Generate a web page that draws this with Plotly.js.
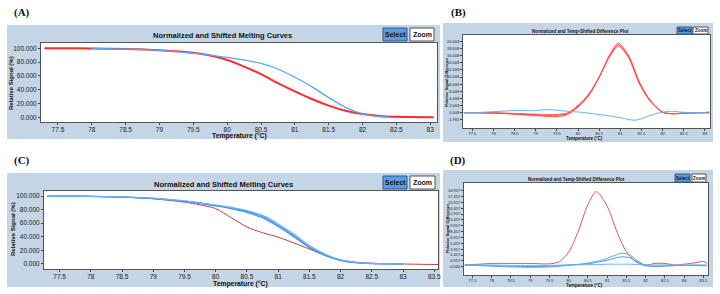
<!DOCTYPE html>
<html>
<head>
<meta charset="utf-8">
<script src="https://cdn.plot.ly/plotly-3.0.1.min.js"></script>
<style>html,body{margin:0;padding:0;background:#fff;}#chart{width:720px;height:294px;}</style>
</head>
<body>
<div id="chart"></div>
<script>
// ---------- Panel A : normalized melting curves ----------
const tempRedA = [77.3, 77.5, 78, 78.5, 79, 79.5, 79.75, 80, 80.25, 80.5, 80.75, 81, 81.25, 81.5, 81.75, 82, 82.25, 82.5, 83, 83.05];
const redA     = [100, 100, 99.8, 99, 97.2, 93.5, 89.5, 83, 73.5, 62.5, 49.5, 37.5, 26.5, 17, 9.5, 4.8, 2, 0.8, 0.2, 0.2];
const tempBlueA = [78, 78.5, 79, 79.5, 79.75, 80, 80.25, 80.5, 80.75, 81, 81.25, 81.5, 81.75, 82, 82.2, 82.4];
const blueA     = [100, 99, 97, 93, 90, 87, 83, 78, 70, 58, 44.5, 28.5, 14.5, 5, 1.5, 0.3];

// ---------- Panel B : difference plot ----------
const tempRedB = [77.3, 77.5, 78, 78.5, 79, 79.5, 79.75, 80, 80.25, 80.5, 80.75, 80.95, 81.2, 81.45, 81.7, 82, 82.25, 82.5, 83, 83.1];
const redB1    = [0, 0, -0.1, -0.4, -0.8, -1.1, -0.5, 1.6, 4.8, 10.0, 16.3, 19.5, 15.9, 8.6, 3.6, 0.2, -0.3, -0.1, 0, 0];
const redB2    = [0, 0, -0.1, -0.3, -0.6, -0.7, -0.2, 1.9, 5.0, 10.0, 16.0, 19.0, 15.5, 8.3, 3.4, 0.1, -0.3, -0.1, 0, 0];
const redB3    = [0, 0, 0, -0.2, -0.4, -0.5, 0, 2.1, 5.2, 10.1, 15.8, 18.7, 15.3, 8.1, 3.3, 0.1, -0.2, -0.1, 0, 0];
const tempBlueB = [77.3, 77.5, 78, 78.5, 79, 79.25, 79.5, 79.75, 80, 80.25, 80.5, 80.75, 81, 81.2, 81.35, 81.5, 81.75, 82, 82.25, 82.5, 83, 83.1];
const blueB     = [0, 0, 0.3, 0.6, 0.6, 0.9, 0.7, 0.4, 0.2, -0.1, -0.5, -0.9, -1.4, -1.9, -2.1, -1.7, -0.6, 0.2, 0.4, 0.1, 0.1, 0.3];
const yTicksB = [-1.992, 0.008, 2.008, 4.008, 6.008, 8.008, 10.008, 12.008, 14.008, 16.008, 18.008, 20.008];
const yLabelsB = ["-1.992", "0.008", "2.008", "4.008", "6.008", "8.008", "10.008", "12.008", "14.008", "16.008", "18.008", "20.008"];

// ---------- Panel C : normalized melting curves ----------
const tempRedC = [77.75, 78, 78.5, 79, 79.5, 79.75, 80, 80.25, 80.5, 80.75, 81, 81.25, 81.5, 81.75, 82, 82.25, 82.5, 83, 83.5, 83.6];
const redC     = [99.5, 99.3, 98.3, 96, 91, 87, 81.5, 68, 54.5, 46, 39.5, 31, 22, 13, 6, 2.5, 1, 0, -0.8, -0.8];
const tempBlueC = [77.3, 77.5, 78, 78.5, 79, 79.5, 79.75, 80, 80.25, 80.5, 80.75, 81, 81.25, 81.5, 81.75, 82, 82.25, 82.5, 83];
const blueC1 = [100, 100, 99.5, 98.5, 96.5, 92.5, 89.5, 86, 82.5, 77.5, 70, 57, 42, 25, 13.5, 5.5, 2, 0.8, 0.2];
const blueC2 = [100, 100, 99.4, 98.3, 96.2, 92, 89, 85.5, 81.5, 76, 68, 55, 40, 24, 12.5, 5, 1.8, 0.6, 0.1];
const blueC3 = [100, 100, 99.5, 98.6, 96.8, 93, 90, 86.8, 83.2, 78.5, 71.5, 59, 44, 27, 14.5, 6, 2.2, 0.8, 0.2];

// ---------- Panel D : difference plot ----------
const tempRedD = [77.3, 77.5, 78, 78.5, 79, 79.5, 79.75, 80, 80.25, 80.5, 80.72, 81, 81.25, 81.5, 81.75, 82, 82.25, 82.5, 82.75, 83, 83.25, 83.5, 83.6];
const redD     = [-0.1, 0, 0.3, 0.3, 0.3, 0.2, 0.7, 3.2, 8.6, 15.4, 18.7, 15.0, 8.5, 3.3, 0.7, -0.1, 0.3, 0.3, -0.1, 0.1, 0.4, 0.8, 0.3];
const tempBlueD = [77.3, 77.5, 78, 78.5, 79, 79.5, 80, 80.5, 80.75, 81, 81.2, 81.4, 81.6, 81.8, 82, 82.25, 82.5, 83, 83.5, 83.6];
const blueD1 = [-0.1, -0.2, -0.4, -0.6, -0.7, -0.6, -0.2, 0.4, 0.9, 1.6, 2.4, 2.9, 2.4, 0.9, -0.2, -0.5, -0.4, -0.2, -0.3, -0.3];
const blueD2 = [-0.1, -0.1, -0.3, -0.4, -0.5, -0.4, -0.1, 0.2, 0.6, 1.1, 1.7, 2.0, 1.7, 0.6, -0.3, -0.4, -0.3, -0.2, -0.2, -0.2];
const blueD3 = [-0.1, -0.1, -0.1, -0.2, -0.2, -0.2, -0.1, 0, 0, 0.1, 0.1, 0.1, 0.1, 0, -0.1, -0.1, -0.1, -0.1, -0.1, -0.2];
const yTicksD = [-0.543, 0.957, 2.457, 3.957, 5.457, 6.957, 8.457, 9.957, 11.457, 12.957, 14.457, 15.957, 17.457, 18.957];
const yLabelsD = ["-0.543", "0.957", "2.457", "3.957", "5.457", "6.957", "8.457", "9.957", "11.457", "12.957", "14.457", "15.957", "17.457", "18.957"];

const yTicksAC = [0, 20, 40, 60, 80, 100];

// ---------- helpers (pixel -> paper) ----------
const W = 720, H = 294;
const px = v => v / W;
const py = v => 1 - v / H;

function line(x, y, xa, ya, color, width) {
  return {x: x, y: y, xaxis: xa, yaxis: ya, type: 'scatter', mode: 'lines',
          line: {color: color, width: width, shape: 'spline', smoothing: 0.8}, hoverinfo: 'skip'};
}

const traces = [
  line(tempRedA, redA, 'x', 'y', '#ff2a2a', 2),
  line(tempBlueA, blueA, 'x', 'y', '#5aa5f5', 1.3),
  line(tempRedB, redB1, 'x2', 'y2', '#ff4848', 1),
  line(tempRedB, redB2, 'x2', 'y2', '#ff3030', 1),
  line(tempRedB, redB3, 'x2', 'y2', '#ff5a5a', 1),
  line(tempBlueB, blueB, 'x2', 'y2', '#6aaef5', 1),
  line(tempRedC, redC, 'x3', 'y3', '#cc3b3b', 1),
  line(tempBlueC, blueC1, 'x3', 'y3', '#4a9ef0', 1.2),
  line(tempBlueC, blueC2, 'x3', 'y3', '#3c8fe6', 1.2),
  line(tempBlueC, blueC3, 'x3', 'y3', '#6cb4f8', 1.2),
  line(tempRedD, redD, 'x4', 'y4', '#d85a5a', 1),
  line(tempBlueD, blueD1, 'x4', 'y4', '#5aa8f2', 1),
  line(tempBlueD, blueD2, 'x4', 'y4', '#4a9aec', 1),
  line(tempBlueD, blueD3, 'x4', 'y4', '#68b2f6', 1)
];

const FONT = 'Liberation Sans, Arial, sans-serif';
function xax(dom, anchor, range, fs, tl) {
  return {domain: dom, anchor: anchor, range: range, dtick: 0.5, tick0: 77.5,
          ticks: 'outside', ticklen: tl, tickcolor: '#444', tickfont: {family: FONT, size: fs, color: '#222'},
          showline: true, mirror: true, linecolor: '#555', linewidth: 1, showgrid: false, zeroline: false, fixedrange: true};
}
function yax(dom, anchor, range, vals, texts, fs) {
  return {domain: dom, anchor: anchor, range: range, tickmode: 'array', tickvals: vals, ticktext: texts,
          ticks: 'outside', ticklen: 2, tickcolor: '#444', tickfont: {family: FONT, size: fs, color: '#222'},
          showline: true, mirror: true, linecolor: '#555', linewidth: 1, showgrid: false, zeroline: false, fixedrange: true};
}
const labelsAC = yTicksAC.map(v => v.toFixed(3));

// panel boxes (pixels)
const panels = [
  {bg: [7, 25, 440, 139], plot: [41, 43, 437, 122]},
  {bg: [443, 23, 713, 142], plot: [463, 35, 710, 128]},
  {bg: [7, 173, 440, 287], plot: [44, 191, 438, 269]},
  {bg: [443, 170, 713, 287], plot: [464, 183, 708, 275]}
];
const shapes = [];
panels.forEach(p => {
  shapes.push({type: 'rect', xref: 'paper', yref: 'paper', layer: 'below',
    x0: px(p.bg[0]), x1: px(p.bg[2]), y0: py(p.bg[3]), y1: py(p.bg[1]),
    fillcolor: '#c4d5e6', line: {width: 0}});
  shapes.push({type: 'rect', xref: 'paper', yref: 'paper', layer: 'below',
    x0: px(p.plot[0]), x1: px(p.plot[2]), y0: py(p.plot[3]), y1: py(p.plot[1]),
    fillcolor: '#ffffff', line: {width: 0}});
});
// buttons [x0,y0,x1,y1, label, font]
const buttons = [
  [383, 28, 407, 41, 'Select', 7], [410, 28, 434, 41, 'Zoom', 7],
  [677, 27, 692, 34, 'Select', 4.5], [693, 27, 708, 34, 'Zoom', 4.5],
  [383, 176, 407, 189, 'Select', 7], [410, 176, 435, 189, 'Zoom', 7],
  [675, 174, 690, 182, 'Select', 4.5], [692, 174, 706, 182, 'Zoom', 4.5]
];
const annotations = [];
buttons.forEach(b => {
  const sel = b[4] === 'Select';
  shapes.push({type: 'rect', xref: 'paper', yref: 'paper', layer: 'above',
    x0: px(b[0]), x1: px(b[2]), y0: py(b[3]), y1: py(b[1]),
    fillcolor: sel ? '#5b9ee0' : '#ffffff', line: {color: sel ? '#2c5b8a' : '#555', width: 1}});
  annotations.push({xref: 'paper', yref: 'paper', x: px((b[0] + b[2]) / 2), y: py((b[1] + b[3]) / 2),
    text: '<b>' + b[4] + '</b>', showarrow: false, xanchor: 'center', yanchor: 'middle',
    font: {family: FONT, size: b[5], color: '#111'}});
});
function txt(x, y, t, size, opts) {
  return Object.assign({xref: 'paper', yref: 'paper', x: px(x), y: py(y), text: t, showarrow: false,
    xanchor: 'center', yanchor: 'middle', font: {family: FONT, size: size, color: '#111'}}, opts || {});
}
const serif = {font: {family: 'Liberation Serif, Times New Roman, serif', size: 11, color: '#111'}};
annotations.push(
  txt(22, 12, '<b>(A)</b>', 11, serif), txt(458, 12, '<b>(B)</b>', 11, serif),
  txt(22, 160, '<b>(C)</b>', 11, serif), txt(458, 160, '<b>(D)</b>', 11, serif),
  txt(222, 35, '<b>Normalized and Shifted Melting Curves</b>', 7.5),
  txt(580, 31, '<b>Normalized and Temp-Shifted Difference Plot</b>', 4.5),
  txt(223, 184, '<b>Normalized and Shifted Melting Curves</b>', 7.5),
  txt(576, 179, '<b>Normalized and Temp-Shifted Difference Plot</b>', 4.5),
  txt(239, 136.3, '<b>Temperature (°C)</b>', 6.8),
  txt(584, 138, '<b>Temperature (°C)</b>', 4.5),
  txt(241, 283.5, '<b>Temperature (°C)</b>', 6.8),
  txt(584, 285, '<b>Temperature (°C)</b>', 4.5),
  txt(11, 83, '<b>Relative Signal (%)</b>', 6, {textangle: -90}),
  txt(446, 82, '<b>Relative Signal Difference</b>', 4, {textangle: -90}),
  txt(13, 229, '<b>Relative Signal (%)</b>', 6, {textangle: -90}),
  txt(447, 228, '<b>Relative Signal Difference</b>', 4, {textangle: -90})
);

const dom = (a, b) => [a, b];
const layout = {
  width: W, height: H, margin: {l: 0, r: 0, t: 0, b: 0}, showlegend: false,
  paper_bgcolor: '#ffffff', plot_bgcolor: 'rgba(0,0,0,0)',
  font: {family: FONT},
  xaxis: xax(dom(px(41), px(437)), 'y', [77.25, 83.1], 6.5, 1.5),
  yaxis: yax(dom(py(122), py(43)), 'x', [-6.8, 107.7], yTicksAC, labelsAC, 6.5),
  xaxis2: xax(dom(px(463), px(710)), 'y2', [77.28, 83.12], 4, 1.5),
  yaxis2: yax(dom(py(128), py(35)), 'x2', [-4.28, 21.8], yTicksB, yLabelsB, 4),
  xaxis3: xax(dom(px(44), px(438)), 'y3', [77.25, 83.56], 6.5, 1.5),
  yaxis3: yax(dom(py(269), py(191)), 'x3', [-7.4, 107.4], yTicksAC, labelsAC, 6.5),
  xaxis4: xax(dom(px(464), px(708)), 'y4', [77.28, 83.62], 4, 1.5),
  yaxis4: yax(dom(py(275), py(183)), 'x4', [-2.67, 20.93], yTicksD, yLabelsD, 4),
  shapes: shapes, annotations: annotations
};
Plotly.newPlot('chart', traces, layout, {displayModeBar: false, staticPlot: true});
</script>
</body>
</html>
